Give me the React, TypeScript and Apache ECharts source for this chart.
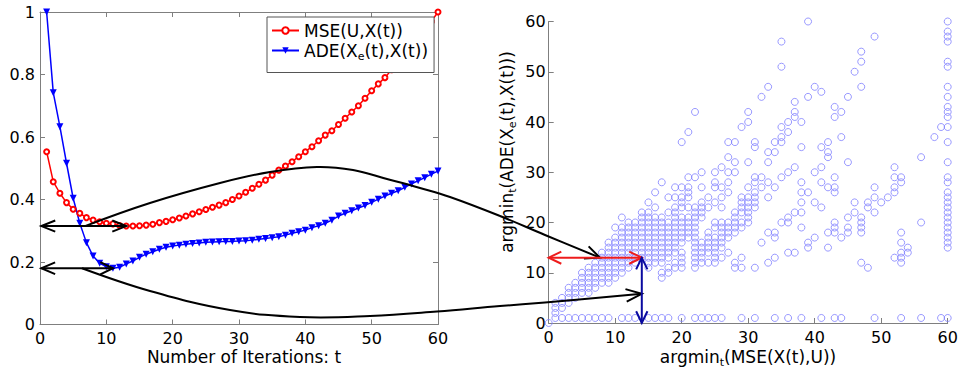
import React, { useEffect, useRef } from 'react';
import * as echarts from 'echarts';

const FONT = 'DejaVu Sans';
const AXIS_GRAY = '#7f7f7f';

// x = 1..60 (iterations)
const mseValues = [
  0.553, 0.457, 0.42, 0.39, 0.369, 0.356, 0.342, 0.334, 0.329, 0.324,
  0.322, 0.317, 0.315, 0.315, 0.316, 0.318, 0.321, 0.326, 0.33, 0.335,
  0.341, 0.347, 0.354, 0.361, 0.368, 0.375, 0.382, 0.39, 0.4, 0.411,
  0.423, 0.436, 0.449, 0.462, 0.478, 0.494, 0.507, 0.521, 0.537, 0.553,
  0.569, 0.588, 0.606, 0.62, 0.64, 0.66, 0.68, 0.7, 0.724, 0.748,
  0.77, 0.79, 0.815, 0.84, 0.865, 0.89, 0.915, 0.94, 0.97, 1.0,
];
const adeValues = [
  1.0, 0.742, 0.633, 0.516, 0.404, 0.324, 0.262, 0.219, 0.196, 0.185,
  0.18, 0.183, 0.194, 0.203, 0.215, 0.225, 0.233, 0.241, 0.247, 0.251,
  0.254, 0.257, 0.259, 0.261, 0.263, 0.264, 0.265, 0.266, 0.266, 0.267,
  0.268, 0.27, 0.273, 0.275, 0.278, 0.281, 0.286, 0.292, 0.297, 0.302,
  0.31, 0.316, 0.324, 0.334, 0.347, 0.356, 0.364, 0.373, 0.381, 0.391,
  0.401, 0.411, 0.42, 0.428, 0.439, 0.45, 0.46, 0.47, 0.481, 0.491,
];
const leftXTicks = [0, 10, 20, 30, 40, 50, 60];
const leftYTicks = [0, 0.2, 0.4, 0.6, 0.8, 1];
const rightTicks = [0, 10, 20, 30, 40, 50, 60];

// scatter: [argmin_t MSE, list of argmin_t ADE values]
const scatterColumns: Array<[number, number[]]> = [
  [0, [0]],
  [1, [1, 2, 3, 4]],
  [2, [1, 3, 4, 5]],
  [3, [1, 4, 5, 6, 7]],
  [4, [1, 5, 6, 7, 8]],
  [5, [1, 6, 7, 8, 9, 10]],
  [6, [1, 6, 7, 8, 9, 10, 11]],
  [7, [1, 7, 8, 9, 10, 11, 12]],
  [8, [1, 8, 9, 10, 11, 12, 13, 14]],
  [9, [1, 8, 9, 10, 11, 12, 13, 14, 15, 16]],
  [10, [9, 10, 11, 12, 13, 14, 15, 16, 17, 19]],
  [11, [1, 10, 11, 12, 13, 14, 15, 16, 17, 18, 19, 21]],
  [12, [1, 11, 12, 13, 14, 15, 16, 17, 18, 19, 20]],
  [13, [1, 12, 13, 14, 15, 16, 17, 18, 19, 20]],
  [14, [13, 14, 15, 16, 17, 18, 19, 20, 21, 22]],
  [15, [1, 11, 12, 13, 14, 15, 16, 17, 18, 19, 20, 21, 22, 24]],
  [16, [1, 12, 13, 14, 15, 16, 17, 18, 19, 20, 21, 23, 26]],
  [17, [1, 9, 10, 12, 13, 14, 15, 16, 17, 18, 19, 20, 21, 28]],
  [18, [1, 10, 11, 13, 14, 15, 16, 17, 18, 19, 20, 22, 25]],
  [19, [11, 12, 14, 15, 16, 17, 18, 19, 20, 21, 22, 23, 25, 27]],
  [20, [1, 11, 12, 13, 14, 16, 17, 18, 19, 20, 21, 23, 24, 25, 27, 36]],
  [21, [17, 18, 19, 20, 21, 23, 25, 26, 27, 29, 38]],
  [22, [1, 11, 12, 13, 14, 15, 16, 17, 18, 19, 20, 21, 22, 23, 29, 42]],
  [23, [1, 12, 13, 14, 15, 16, 21, 22, 23, 24, 27, 30]],
  [24, [1, 12, 14, 15, 16, 17, 18, 23, 25]],
  [25, [1, 12, 13, 14, 15, 16, 17, 19, 20, 24, 27, 28, 30]],
  [26, [1, 13, 15, 16, 17, 18, 19, 20, 23, 25, 27, 31]],
  [27, [14, 17, 18, 19, 20, 26, 28, 30, 33, 36]],
  [28, [11, 12, 18, 19, 20, 21, 22, 30, 32, 36]],
  [29, [1, 11, 13, 19, 20, 22, 23, 24, 25, 39]],
  [30, [20, 21, 22, 23, 24, 25, 27, 32, 40, 42]],
  [31, [1, 11, 23, 24, 25, 26, 28, 29, 35, 36]],
  [32, [16, 27, 29, 45]],
  [33, [12, 18, 25, 28, 32, 34, 47]],
  [34, [1, 13, 17, 18, 27, 34, 36]],
  [35, [20, 29, 36, 37, 39, 51, 56]],
  [36, [1, 14, 20, 21, 30, 38, 40]],
  [37, [14, 22, 31, 41, 42, 44]],
  [38, [1, 19, 22, 24, 26, 28, 35, 40]],
  [39, [15, 16, 26, 45, 60]],
  [40, [17, 24, 30, 47]],
  [41, [1, 23, 28, 31, 35, 46]],
  [42, [15, 18, 27, 33, 34, 36]],
  [43, [1, 18, 19, 20, 26, 27, 29, 41, 43]],
  [44, [1, 17, 37, 42]],
  [45, [18, 19, 21, 32, 45]],
  [46, [22, 24, 50]],
  [47, [12, 18, 19, 20, 21, 47, 52, 54]],
  [48, [11, 23, 24]],
  [49, [1, 22, 25, 27, 57]],
  [50, [24]],
  [51, [25]],
  [52, [13, 26, 27, 29, 31]],
  [53, [1, 12, 13, 14, 16, 18, 28, 29]],
  [54, [14, 15]],
  [56, [1, 20, 33]],
  [58, [37]],
  [59, [1, 39]],
  [60, [1, 15, 16, 17, 18, 19, 20, 21, 22, 23, 24, 25, 26, 28, 29, 32, 36, 39, 41, 42, 43, 45, 47, 51, 52, 56, 57, 58, 60]],
];

// annotation anchors (data coords)
const mseMin = [13, 0.315];
const adeMin = [11, 0.18];
const pickedPoint = [14, 13];

const MSE_NAME = 'MSE(U,X(t))';
const ADE_NAME = 'ADE(X_e(t),X(t))';

function arrowHead(tip: number[], from: number[], len: number, ang: number) {
  const dx = from[0] - tip[0];
  const dy = from[1] - tip[1];
  const d = Math.hypot(dx, dy) || 1;
  const ux = dx / d;
  const uy = dy / d;
  const rot = (a: number) => [
    tip[0] + len * (ux * Math.cos(a) - uy * Math.sin(a)),
    tip[1] + len * (ux * Math.sin(a) + uy * Math.cos(a)),
  ];
  return [rot(ang), tip, rot(-ang)];
}

const richMain = { fontSize: 17, fontFamily: FONT, lineHeight: 22, color: '#000' };
const richSub = { fontSize: 11, fontFamily: FONT, lineHeight: 11, verticalAlign: 'bottom', color: '#000' };

export default function App() {
  const ref = useRef<HTMLDivElement>(null);
  useEffect(() => {
    if (!ref.current) return;
    const chart = echarts.init(ref.current, undefined, { renderer: 'svg' });

    const axisCommon = {
      type: 'value',
      axisLine: { show: true, onZero: false, lineStyle: { color: AXIS_GRAY, width: 1 } },
      axisTick: { show: true, inside: true, length: 5, lineStyle: { color: AXIS_GRAY } },
      splitLine: { show: false },
    };
    const labelStyle = { color: '#000', fontSize: 16, fontFamily: FONT, lineHeight: 16 };

    const scatterData: number[][] = [];
    scatterColumns.forEach(([x, ys]) => ys.forEach((y) => scatterData.push([x, y])));

    chart.setOption({
      animation: false,
      backgroundColor: '#ffffff',
      textStyle: { fontFamily: FONT },
      grid: [
        { left: 40, top: 12, width: 398, height: 312.5 },
        { left: 548.7, top: 21.5, width: 399, height: 301.5 },
      ],
      xAxis: [
        { ...axisCommon, gridIndex: 0, position: 'bottom', min: leftXTicks[0], max: leftXTicks[leftXTicks.length - 1], interval: 10,
          axisLabel: { ...labelStyle, margin: 6 } },
        { ...axisCommon, gridIndex: 0, position: 'top', min: 0, max: 60, interval: 10, axisLabel: { show: false } },
        { ...axisCommon, gridIndex: 1, position: 'bottom', min: rightTicks[0], max: rightTicks[rightTicks.length - 1], interval: 10,
          axisLabel: { ...labelStyle, margin: 6 } },
      ],
      yAxis: [
        { ...axisCommon, gridIndex: 0, position: 'left', min: leftYTicks[0], max: leftYTicks[leftYTicks.length - 1], interval: 0.2,
          axisLabel: { ...labelStyle, margin: 5 } },
        { ...axisCommon, gridIndex: 0, position: 'right', min: 0, max: 1, interval: 0.2, axisLabel: { show: false } },
        { ...axisCommon, gridIndex: 1, position: 'left', min: rightTicks[0], max: rightTicks[rightTicks.length - 1], interval: 10,
          axisLabel: { ...labelStyle, margin: 3 } },
      ],
      legend: {
        data: [MSE_NAME, ADE_NAME],
        orient: 'vertical',
        left: 267,
        top: 17,
        itemWidth: 27,
        itemHeight: 8,
        itemGap: 3,
        padding: [5, 6, 11, 4],
        borderColor: '#555',
        borderWidth: 1,
        borderRadius: 0,
        backgroundColor: '#ffffff',
        z: 20,
        formatter: (name: string) =>
          name === MSE_NAME ? '{n|MSE(U,X(t))}' : '{n|ADE(X}{s|e}{n|(t),X(t))}',
        textStyle: {
          fontFamily: FONT,
          fontSize: 17,
          color: '#000',
          rich: { n: { ...richMain }, s: { ...richSub } },
        },
      },
      series: [
        {
          name: MSE_NAME,
          type: 'line',
          xAxisIndex: 0,
          yAxisIndex: 0,
          data: mseValues.map((v, i) => [i + 1, v]),
          symbol: 'emptyCircle',
          symbolSize: 5,
          clip: false,
          lineStyle: { color: '#ff0000', width: 1.5 },
          itemStyle: { color: '#ff0000', borderColor: '#ff0000', borderWidth: 1.2 },
          z: 3,
        },
        {
          name: ADE_NAME,
          type: 'line',
          xAxisIndex: 0,
          yAxisIndex: 0,
          data: adeValues.map((v, i) => [i + 1, v]),
          symbol: 'triangle',
          symbolRotate: 180,
          symbolSize: 7,
          clip: false,
          lineStyle: { color: '#0000ff', width: 1.5 },
          itemStyle: { color: '#0000ff' },
          z: 3,
        },
        {
          name: 'scatter',
          type: 'scatter',
          xAxisIndex: 2,
          yAxisIndex: 2,
          data: scatterData,
          symbol: 'circle',
          symbolSize: 7,
          itemStyle: { color: 'rgba(0,0,0,0)', borderColor: '#8080ff', borderWidth: 1 },
          z: 2,
        },
      ],
    });

    const L = (v: number[]) => chart.convertToPixel({ seriesIndex: 0 }, v) as number[];
    const R = (v: number[]) => chart.convertToPixel({ seriesIndex: 2 }, v) as number[];

    const black = { stroke: '#000', lineWidth: 2, fill: 'none' };
    const redS = { stroke: '#ee1c1c', lineWidth: 2, fill: 'none' };
    const navyS = { stroke: '#0a0aa0', lineWidth: 2, fill: 'none' };

    const a1L = L([0.2, mseMin[1]]);
    const a1R = L(mseMin);
    const a2L = L([0.2, adeMin[1]]);
    const a2R = L(adeMin);
    const origin = R([0, pickedPoint[1]]);
    const pp = R(pickedPoint);
    const bottom = R([pickedPoint[0], 0]);

    const upEnd = R([7.7, 13]);
    const upperCurve = [
      [85, a1L[1]], [150, 203], [220, 183], [270, 172], [317, 167], [353, 170],
      [387, 179], [420, 188], [450, 197], [500, 216], [545, 235], upEnd,
    ];
    const lowEnd = R([14, 5.8]);
    const lowerCurve = [
      [82, a2L[1]], [150, 291], [230, 310], [300, 317], [370, 316], [437, 311.5],
      [500, 306], [545, 302.5], lowEnd,
    ];

    const elements: any[] = [
      { type: 'polyline', z: 10, shape: { points: [a1L, a1R] }, style: black },
      { type: 'polyline', z: 10, shape: { points: arrowHead(a1L, a1R, 15, 0.38) }, style: black },
      { type: 'polyline', z: 10, shape: { points: arrowHead(a1R, a1L, 15, 0.38) }, style: black },
      { type: 'polyline', z: 10, shape: { points: [a2L, a2R] }, style: black },
      { type: 'polyline', z: 10, shape: { points: arrowHead(a2L, a2R, 15, 0.4) }, style: black },
      { type: 'polyline', z: 10, shape: { points: arrowHead(a2R, a2L, 14, 0.45) }, style: black },
      { type: 'polyline', z: 10, shape: { points: upperCurve, smooth: 0.4 }, style: black },
      { type: 'polyline', z: 10, shape: { points: arrowHead(upEnd, [580, 250], 16, 0.42) }, style: black },
      { type: 'polyline', z: 10, shape: { points: lowerCurve, smooth: 0.4 }, style: black },
      { type: 'polyline', z: 10, shape: { points: arrowHead(lowEnd, [600, 298], 17, 0.38) }, style: black },
      { type: 'polyline', z: 11, shape: { points: [origin, pp] }, style: redS },
      { type: 'polyline', z: 11, shape: { points: arrowHead(origin, pp, 14, 0.45) }, style: redS },
      { type: 'polyline', z: 11, shape: { points: arrowHead(pp, origin, 14, 0.45) }, style: redS },
      { type: 'polyline', z: 12, shape: { points: [pp, bottom] }, style: navyS },
      { type: 'polyline', z: 12, shape: { points: arrowHead(pp, bottom, 13, 0.45) }, style: navyS },
      { type: 'polyline', z: 12, shape: { points: arrowHead(bottom, pp, 13, 0.45) }, style: navyS },
      {
        type: 'text', z: 10, x: 244, y: 357,
        style: { text: 'Number of Iterations: t', fontSize: 17, fontFamily: FONT, fill: '#000', align: 'center', verticalAlign: 'middle' },
      },
      {
        type: 'text', z: 10, x: 748, y: 357,
        style: {
          text: '{n|argmin}{s|t}{n|(MSE(X(t),U))}', align: 'center', verticalAlign: 'middle',
          rich: { n: richMain, s: richSub },
        },
      },
      {
        type: 'text', z: 10, x: 507, y: 152, rotation: Math.PI / 2,
        style: {
          text: '{n|argmin}{s|t}{n|(ADE(X}{s|e}{n|(t),X(t)))}', align: 'center', verticalAlign: 'middle',
          rich: { n: richMain, s: richSub },
        },
      },
    ];
    chart.setOption({ graphic: { elements } });

    return () => chart.dispose();
  }, []);
  return <div ref={ref} style={{ position: 'fixed', left: 0, top: 0, width: 962, height: 373, background: '#fff' }} />;
}
